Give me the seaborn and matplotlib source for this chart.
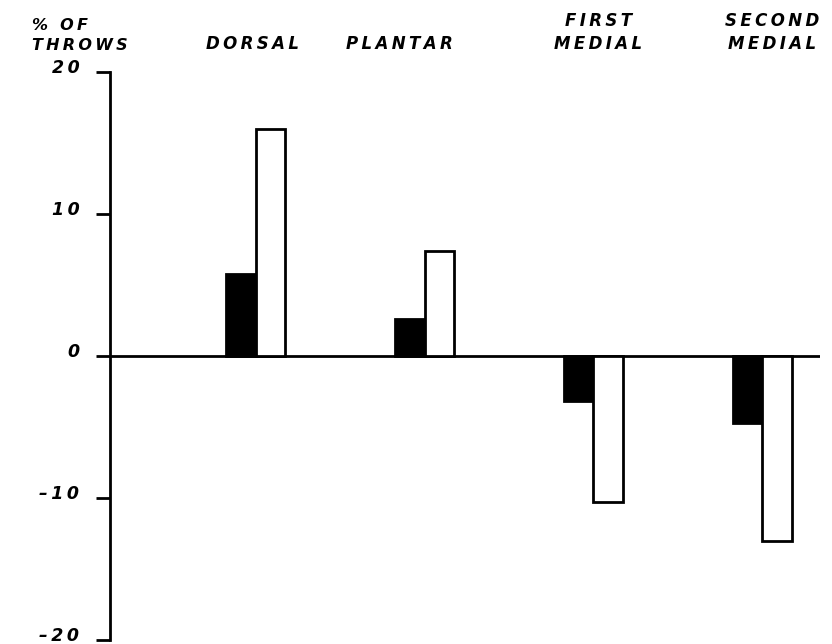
import pandas as pd
import seaborn as sns
import matplotlib.pyplot as plt
from matplotlib import transforms

# values (% of throws)
categories = ['DORSAL', 'PLANTAR', 'FIRST\nMEDIAL', 'SECOND\nMEDIAL']
black_vals = [5.8, 2.6, -3.2, -4.7]
white_vals = [16.0, 7.4, -10.3, -13.0]
y_ticks = [-20, -10, 0, 10, 20]
y_ticklabels = ['\u201320', '\u201310', '0', '10', '20']


def spaced(s):
    # wide letter spacing like the stencil lettering
    return '\n'.join('\u2009'.join(line) for line in s.split('\n'))


data = pd.DataFrame({
    'category': categories * 2,
    'group': ['black'] * 4 + ['white'] * 4,
    'value': black_vals + white_vals,
})

sns.set_style('white')
plt.rcParams['font.family'] = ['DejaVu Sans']
plt.rcParams['text.color'] = 'black'
plt.rcParams['ytick.color'] = 'black'

fig = plt.figure(figsize=(8.32, 6.44), dpi=100)
ax = fig.add_axes([0.1322, 0.0062, 0.8534, 0.882])

sns.barplot(data=data, x='category', y='value', hue='group',
            palette={'black': 'black', 'white': 'white'},
            width=0.35, edgecolor='black', linewidth=2,
            legend=False, ax=ax, errorbar=None)

ax.set_ylim(-20, 20)
ax.set_xlim(-0.865, 3.343)
ax.axhline(0, color='black', lw=2, zorder=0)

for side in ['top', 'right', 'bottom']:
    ax.spines[side].set_visible(False)
ax.spines['left'].set_linewidth(2)
ax.spines['left'].set_color('black')

ax.set_xticks([])
ax.set_xlabel('')
ax.set_ylabel('')
ax.set_yticks(y_ticks)
ax.set_yticklabels([spaced(t) for t in y_ticklabels],
                   fontsize=12.5, fontstyle='italic', fontweight='bold')
ax.tick_params(axis='y', direction='out', length=10, width=2,
               color='black', pad=12, left=True)
# labels sit a little above their ticks in the original
shift = transforms.ScaledTranslation(0, 6 / 100, fig.dpi_scale_trans)
for lab in ax.get_yticklabels():
    lab.set_transform(lab.get_transform() + shift)

# category labels above the plot
trans = transforms.blended_transform_factory(ax.transData, ax.transAxes)
label_shift = [-0.02, -0.15, 0.03, 0.06]
for i, (cat, dx) in enumerate(zip(categories, label_shift)):
    ax.text(i + dx, 1.034, spaced(cat), transform=trans, ha='center',
            va='bottom', fontsize=12, fontstyle='italic',
            fontweight='bold', linespacing=1.35)

fig.text(0.038, 0.918, spaced('% OF\nTHROWS'), ha='left', va='bottom',
         fontsize=11.5, fontstyle='italic', fontweight='bold',
         linespacing=1.4)

fig.savefig('out.png', dpi=100)
